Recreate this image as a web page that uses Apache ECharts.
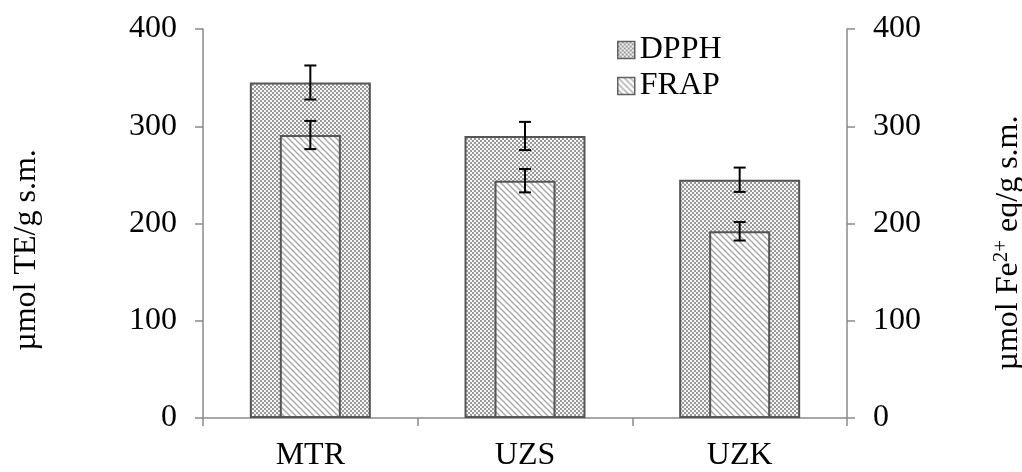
<!DOCTYPE html>
<html>
<head>
<meta charset="utf-8">
<script src="https://cdn.jsdelivr.net/npm/echarts@6/dist/echarts.min.js"></script>
<style>
html,body{margin:0;padding:0;background:#fff;}
#chart{width:1022px;height:472px;}
</style>
</head>
<body>
<div id="chart"></div>
<script>
// ---- data ----
const categories = ['MTR', 'UZS', 'UZK'];
const dpphValues = [345, 290, 245];
const dpphErrors = [17.5, 14.5, 12.5];
const frapValues = [291, 244, 192];
const frapErrors = [14.5, 12, 9.5];
const yTicks = [0, 100, 200, 300, 400];
const leftAxisName = 'µmol TE/g s.m.';
const rightAxisNameParts = ['µmol Fe', '2+', ' eq/g s.m.'];

// ---- patterns ----
function checkerPattern() {
  const c = document.createElement('canvas');
  c.width = 4; c.height = 4;
  const g = c.getContext('2d');
  g.fillStyle = '#f6f6f6'; g.fillRect(0, 0, 4, 4);
  g.fillStyle = '#999999';
  g.fillRect(0, 0, 2, 2); g.fillRect(2, 2, 2, 2);
  return { image: c, repeat: 'repeat' };
}
function diagPattern() {
  const c = document.createElement('canvas');
  const s = 6;
  c.width = s; c.height = s;
  const g = c.getContext('2d');
  g.fillStyle = '#ffffff'; g.fillRect(0, 0, s, s);
  g.strokeStyle = '#ababab'; g.lineWidth = 1.5;
  g.beginPath();
  g.moveTo(-1, -1); g.lineTo(s + 1, s + 1);
  g.moveTo(-1, s - 1); g.lineTo(1, s + 1);
  g.moveTo(s - 1, -1); g.lineTo(s + 1, 1);
  g.stroke();
  return { image: c, repeat: 'repeat' };
}

const FONT = 'Liberation Serif';
const FS = 32;
const axisGray = '#8a8a8a';

function errItem(params, api) {
  const x = api.value(0), v = api.value(1), e = api.value(2);
  const top = api.coord([x, v + e]);
  const bot = api.coord([x, v - e]);
  const h = 6;
  const st = { stroke: '#000', lineWidth: 2 };
  return {
    type: 'group',
    children: [
      { type: 'line', shape: { x1: top[0], y1: top[1], x2: bot[0], y2: bot[1] }, style: st },
      { type: 'line', shape: { x1: top[0] - h, y1: top[1], x2: top[0] + h, y2: top[1] }, style: st },
      { type: 'line', shape: { x1: bot[0] - h, y1: bot[1], x2: bot[0] + h, y2: bot[1] }, style: st }
    ]
  };
}

const chart = echarts.init(document.getElementById('chart'), null, { renderer: 'canvas' });
const yMin = yTicks[0], yMax = yTicks[yTicks.length - 1], yStep = yTicks[1] - yTicks[0];

const yAxisCommon = {
  type: 'value', min: yMin, max: yMax, interval: yStep,
  splitLine: { show: false },
  axisLine: { show: true, lineStyle: { color: axisGray, width: 1.5 } },
  axisTick: { show: true, length: 8, lineStyle: { color: axisGray, width: 1.5 } },
  axisLabel: { fontFamily: FONT, fontSize: FS, color: '#000', margin: 26 }
};

chart.setOption({
  animation: false,
  backgroundColor: '#fff',
  grid: { left: 203, right: 175, top: 29, bottom: 50, containLabel: false },
  legend: {
    data: ['DPPH', 'FRAP'],
    orient: 'vertical',
    left: 612, top: 29,
    itemWidth: 17, itemHeight: 17, itemGap: 4,
    itemStyle: { borderColor: '#606060', borderWidth: 1.5 },
    icon: 'rect',
    textStyle: { fontFamily: FONT, fontSize: FS, color: '#000', lineHeight: 32 }
  },
  xAxis: [
    {
      type: 'category', data: categories,
      axisLine: { show: true, lineStyle: { color: axisGray, width: 1.5 } },
      axisTick: { show: true, length: 8, lineStyle: { color: axisGray, width: 1.5 } },
      axisLabel: { fontFamily: FONT, fontSize: FS, color: '#000', margin: 22 }
    },
    { type: 'category', data: categories, show: false }
  ],
  yAxis: [
    Object.assign({ position: 'left' }, yAxisCommon),
    Object.assign({ position: 'right' }, yAxisCommon)
  ],
  series: [
    {
      name: 'DPPH', type: 'bar', xAxisIndex: 0, yAxisIndex: 0,
      barWidth: 121, data: dpphValues, z: 2,
      itemStyle: { color: checkerPattern(), borderColor: '#555555', borderWidth: 2 }
    },
    {
      name: 'FRAP', type: 'bar', xAxisIndex: 1, yAxisIndex: 1,
      barWidth: 61, data: frapValues, z: 3,
      itemStyle: { color: diagPattern(), borderColor: '#555555', borderWidth: 2 }
    },
    {
      name: 'DPPH err', type: 'custom', xAxisIndex: 0, yAxisIndex: 0, z: 5,
      renderItem: errItem, encode: { x: 0, y: 1 },
      data: dpphValues.map((v, i) => [i, v, dpphErrors[i]])
    },
    {
      name: 'FRAP err', type: 'custom', xAxisIndex: 1, yAxisIndex: 1, z: 5,
      renderItem: errItem, encode: { x: 0, y: 1 },
      data: frapValues.map((v, i) => [i, v, frapErrors[i]])
    }
  ],
  graphic: [
    {
      type: 'text', x: 27, y: 250, rotation: Math.PI / 2,
      style: { text: leftAxisName, font: FS + 'px "' + FONT + '"', fill: '#000', align: 'center', verticalAlign: 'middle' }
    },
    {
      type: 'text', x: 1008, y: 243, rotation: Math.PI / 2,
      style: {
        text: '{a|' + rightAxisNameParts[0] + '}{s|' + rightAxisNameParts[1] + '}{a|' + rightAxisNameParts[2] + '}',
        align: 'center', verticalAlign: 'middle',
        rich: {
          a: { fontFamily: FONT, fontSize: FS, fill: '#000', color: '#000', verticalAlign: 'bottom', lineHeight: 34 },
          s: { fontFamily: FONT, fontSize: 21, fill: '#000', color: '#000', verticalAlign: 'top', lineHeight: 34, padding: [0, 0, 12, 0] }
        }
      }
    }
  ]
});
</script>
</body>
</html>
